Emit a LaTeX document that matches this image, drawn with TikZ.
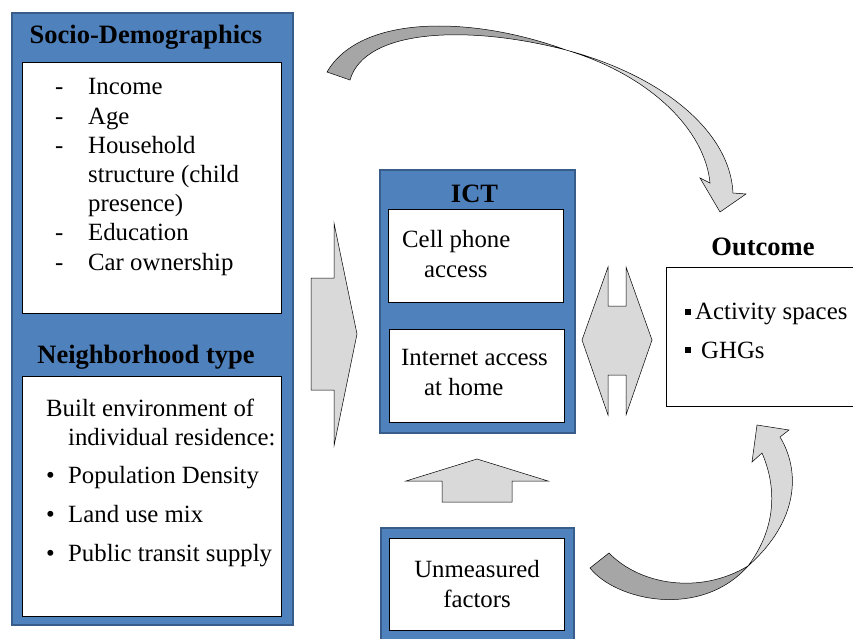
\documentclass[tikz,border=0pt]{standalone}
\usepackage{fontspec}
\setmainfont{Liberation Serif}
\usepackage{tikz}
\usetikzlibrary{arrows,shapes,positioning}
\definecolor{panelblue}{RGB}{79,129,189}
\definecolor{paneledge}{RGB}{56,93,138}
\definecolor{arrowlight}{RGB}{217,217,217}
\definecolor{arrowdark}{RGB}{166,166,166}

\begin{document}
\begin{tikzpicture}[x=1pt,y=-1pt]
                \tikzstyle{every node}+=[inner sep=0pt]
                \tikzstyle{panel}=[draw=paneledge, fill=panelblue, line width=1.5pt]
                \tikzstyle{card}=[draw=black, fill=white, line width=0.6pt]
                \tikzstyle{blockarrow}=[draw=black, fill=arrowlight, line width=0.5pt, line join=miter]
                \tikzstyle{heading}=[font=\fontsize{26.5}{30}\selectfont\bfseries]
                \tikzstyle{body}=[font=\fontsize{24.8}{29.2}\selectfont, align=left]
                \useasboundingbox (0,0) rectangle (853,639);
                % panels
                \node [panel, minimum width=281pt, minimum height=612pt] (leftpanel) at (152.5,319) {};
                \node [card, minimum width=259pt, minimum height=251pt] (sociocard) at (151.5,187.5) {};
                \node [card, minimum width=259pt, minimum height=240pt] (nbhdcard) at (151.5,496) {};
                \node [panel, minimum width=195pt, minimum height=263pt] (ictpanel) at (477.5,301.5) {};
                \node [card, minimum width=175pt, minimum height=93pt] (phonecard) at (475.5,255.5) {};
                \node [card, minimum width=175pt, minimum height=93pt] (netcard) at (476.5,375.5) {};
                \node [panel, minimum width=193pt, minimum height=120pt] (unmpanel) at (477.5,588) {};
                \node [card, minimum width=175pt, minimum height=92pt] (unmcard) at (476.5,584) {};
                \node [card, minimum width=200pt, minimum height=139pt] (outcard) at (766,336.5) {};
                % texts (base = last line)
                \node [heading, anchor=base] (sociohead) at (146,44) {Socio-Demographics};
                \node [body, anchor=base west] (sociolist) at (55,270) {\makebox[33pt][l]{-}Income\\
                    \makebox[33pt][l]{-}Age\\
                    \makebox[33pt][l]{-}Household\\
                    \hspace*{33pt}structure (child\\
                    \hspace*{33pt}presence)\\
                    \makebox[33pt][l]{-}Education\\
                    \makebox[33pt][l]{-}Car ownership};
                \node [heading, anchor=base] (nbhdhead) at (146,363) {Neighborhood type};
                \node [body, anchor=base west] (nbhdlist) at (46,561) {Built environment of\\
                    \hspace*{22pt}individual residence:\\[9pt]
                    \makebox[22pt][l]{\textbullet}Population Density\\[10pt]
                    \makebox[22pt][l]{\textbullet}Land use mix\\[9pt]
                    \makebox[22pt][l]{\textbullet}Public transit supply};
                \node [heading, anchor=base] (icthead) at (474.5,202) {ICT};
                \node [body, anchor=base west] (phone) at (402,277) {Cell phone\\\hspace*{22pt}access};
                \node [body, anchor=base west] (internet) at (401,395) {Internet access\\\hspace*{23pt}at home};
                \node [body, align=center, anchor=base] (unmeasured) at (477,607) {Unmeasured\\factors};
                \node [heading, anchor=base] (outhead) at (763,255) {Outcome};
                \node [body, anchor=base west] (outlist) at (685,358) {\rule[5pt]{6pt}{6pt}\hspace{4pt}Activity spaces\\[9pt]
                    \rule[5pt]{6pt}{6pt}\hspace{10pt}GHGs};
                % block arrows
                \draw [blockarrow] (311,278) -- (334,278) -- (334,223) -- (357,334) -- (334,446) -- (334,390) -- (311,390) -- cycle;
                \draw [blockarrow] (608,306) -- (608,267) -- (582,340) -- (608,415) -- (608,375) -- (626,375) -- (626,415) -- (652,340) -- (626,267) -- (626,306) -- cycle;
                \draw [blockarrow] (442,502) -- (442,481) -- (406,481) -- (477,459) -- (548,481) -- (512,481) -- (512,502) -- cycle;
                % curved arrow to outcome (top)
                \draw [blockarrow, fill=arrowdark] (327,72) .. controls (360,15) and (470,15) .. (566,50) .. controls (470,25) and (365,28) .. (350,80) -- cycle;
                \draw [blockarrow] (566,50) .. controls (660,75) and (730,130) .. (733,193) -- (746,194) -- (720,212) -- (700,178) -- (710,183) .. controls (705,130) and (650,75) .. (566,50) -- cycle;
                % curved arrow to outcome (bottom)
                \draw [blockarrow, fill=arrowdark] (590,568) .. controls (615,600) and (700,620) .. (748,566) .. controls (700,595) and (640,585) .. (609,553) -- cycle;
                \draw [blockarrow] (748,566) .. controls (800,520) and (800,470) .. (780,437) -- (789,430) -- (757,425) -- (752,462) -- (762,453) .. controls (778,490) and (775,530) .. (748,566) -- cycle;
            \end{tikzpicture}
\end{document}
